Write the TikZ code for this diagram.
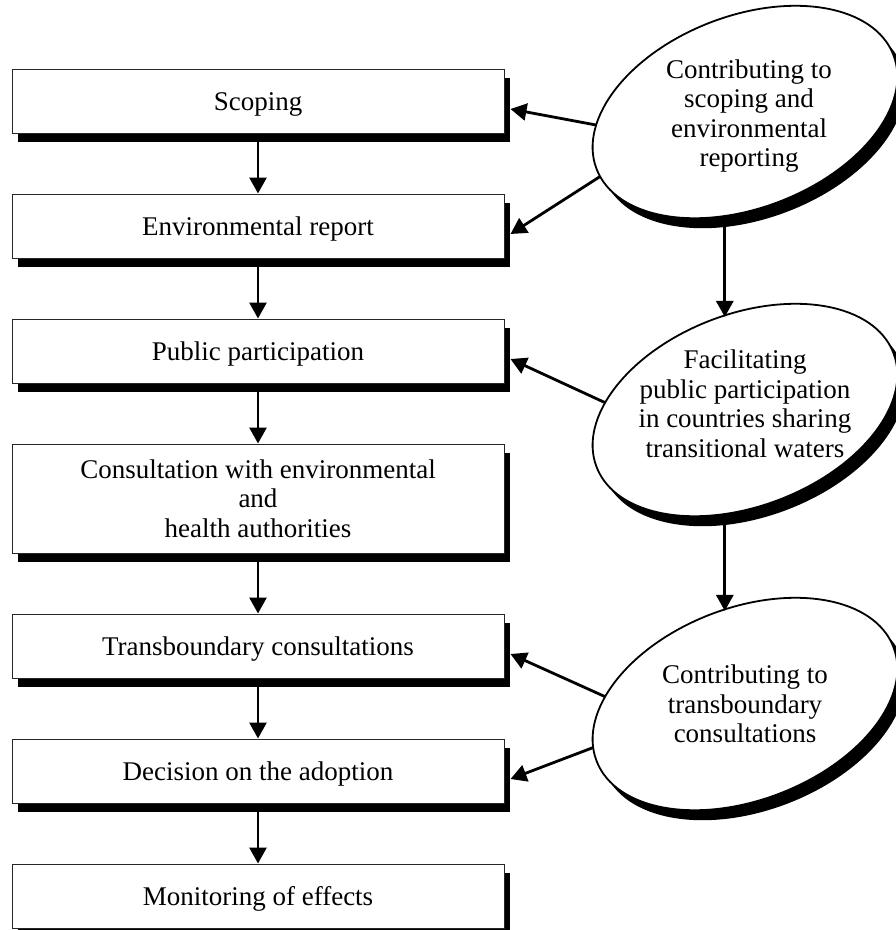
\documentclass[tikz,border=0pt]{standalone}
\usepackage{fontspec}
\setmainfont{Liberation Serif}
\usetikzlibrary{positioning, shapes.geometric, shadows, arrows.meta}
\tikzset{
	x=1pt, y=-1pt,
	node distance=60pt,
	>={Triangle[length=16pt, width=17pt]},
	stage/.style={draw=black!85, line width=1pt, fill=white,
		minimum width=492pt, minimum height=64pt, inner sep=0pt,
		font=\fontsize{27}{29.5}\selectfont, align=center,
		text height=22pt, text depth=4pt,
		drop shadow={fill=black, opacity=1, shadow xshift=6pt, shadow yshift=-9pt}},
	ovalshade/.style={ellipse, fill=black, minimum width=318pt, minimum height=192pt,
		inner sep=0pt, outer sep=0pt, rotate=21},
	oval/.style={ovalshade, draw, line width=1.8pt, fill=white},
	ovaltext/.style={font=\fontsize{27}{29.5}\selectfont, align=center},
	flow/.style={->, line width=2.8pt},
	hit/.style={xshift=6pt, yshift=-8pt}}

\begin{document}
\begin{tikzpicture}
	\useasboundingbox (0,0) rectangle (896,930);
	% steps of the procedure
	\node[stage] (scoping) at (258,101) {Scoping};
	\node[stage, below=of scoping] (report) {Environmental report};
	\node[stage, below=of report] (public) {Public participation};
	\node[stage, below=of public, minimum height=109pt, text height=, text depth=] (consult) {Consultation with environmental\\and\\health authorities};
	\node[stage, below=of consult] (transb) {Transboundary consultations};
	\node[stage, below=of transb] (decision) {Decision on the adoption};
	\node[stage, below=of decision] (monitor) {Monitoring of effects};
	
	% contributions on the right
	\node[ovalshade] (c1s) at (753,122) {};
	\node[ovalshade] (c2s) at (753,420) {};
	\node[ovalshade] (c3s) at (753,714) {};
	\node[oval] (c1) at (745,112) {};
	\node[oval] (c2) at (745,410) {};
	\node[oval] (c3) at (745,704) {};
	\node[ovaltext] (t1) at (749,116) {Contributing to\\scoping and\\environmental\\reporting};
	\node[ovaltext] (t2) at (745,404) {Facilitating\\public participation\\in countries sharing\\transitional waters};
	\node[ovaltext] (t3) at (745,704) {Contributing to\\transboundary\\consultations};
	
	\draw[flow] (scoping) -- (report);
	\draw[flow] (report) -- (public);
	\draw[flow] (public) -- (consult);
	\draw[flow] (consult) -- (transb);
	\draw[flow] (transb) -- (decision);
	\draw[flow] (decision) -- (monitor);
	
	\draw[flow] (c1.164) -- ([hit]scoping.east);
	\draw[flow] (c1.183) -- ([hit]report.east);
	\draw[flow] (c2.156) -- ([hit]public.east);
	\draw[flow] (c3.156) -- ([hit]transb.east);
	\draw[flow] (c3.175) -- ([hit]decision.east);
	\draw[flow] (c1.238) -- (c1.238 |- c2.84);
	\draw[flow] (c2.238) -- (c2.238 |- c3.84);
\end{tikzpicture}
\end{document}
